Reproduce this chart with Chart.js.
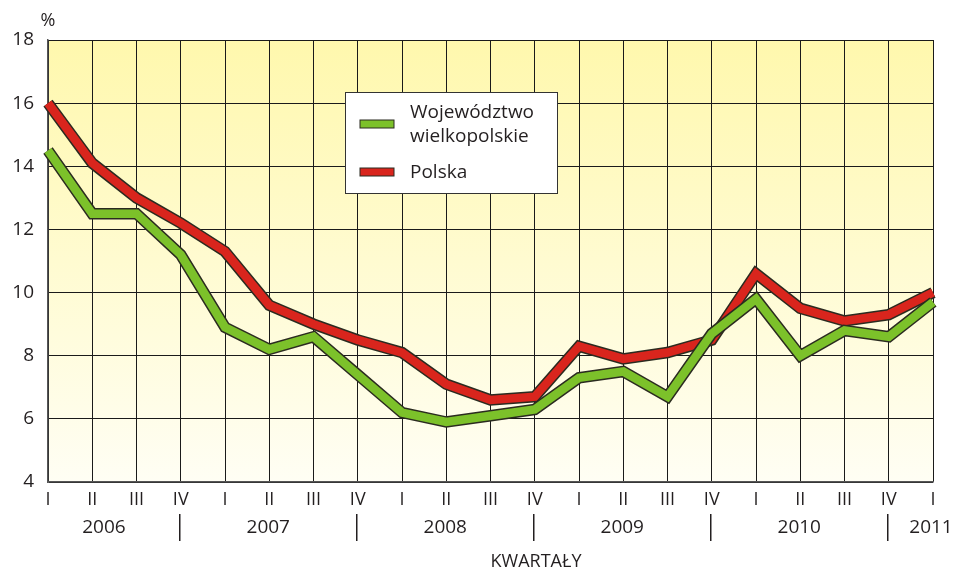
<!DOCTYPE html>
<html>
<head>
<meta charset="utf-8">
<script src="https://cdn.jsdelivr.net/npm/chart.js@4.4.0/dist/chart.umd.min.js"></script>
<style>
  html, body { margin: 0; padding: 0; background: #fff; }
  #wrap { width: 959px; height: 572px; position: relative; }
</style>
</head>
<body>
<div id="wrap"><canvas id="chart"></canvas></div>
<script>
const quarters = ['I','II','III','IV','I','II','III','IV','I','II','III','IV','I','II','III','IV','I','II','III','IV','I'];
const years = ['2006','2007','2008','2009','2010','2011'];
const wielkopolskie = [14.5,12.5,12.5,11.2,8.9,8.2,8.6,7.4,6.2,5.9,6.1,6.3,7.3,7.5,6.7,8.7,9.8,8.0,8.8,8.6,9.7];
const polska = [16.0,14.1,13.0,12.2,11.3,9.6,9.0,8.5,8.1,7.1,6.6,6.7,8.3,7.9,8.1,8.5,10.6,9.5,9.1,9.3,10.0];
const yTicks = [4,6,8,10,12,14,16,18];

const FONT = '"Open Sans", "Noto Sans", sans-serif';
const TXT = '#231f20';

// background gradient of the plot area
const bgPlugin = {
  id: 'bg',
  beforeDraw(chart) {
    const { ctx, chartArea: a } = chart;
    const g = ctx.createLinearGradient(0, a.top, 0, a.bottom);
    g.addColorStop(0, '#fff8ad');
    g.addColorStop(1, '#fffef4');
    ctx.save();
    ctx.fillStyle = g;
    ctx.fillRect(a.left, a.top, a.right - a.left, a.bottom - a.top);
    ctx.restore();
  }
};

// dark outline under each thick line
const outlinePlugin = {
  id: 'outline',
  beforeDatasetDraw(chart, args) {
    const { ctx } = chart;
    const pts = args.meta.data;
    ctx.save();
    ctx.beginPath();
    pts.forEach((p, i) => i ? ctx.lineTo(p.x, p.y) : ctx.moveTo(p.x, p.y));
    ctx.lineWidth = 11.5;
    ctx.lineJoin = 'miter';
    ctx.strokeStyle = '#2b2b20';
    ctx.stroke();
    ctx.restore();
  }
};

// years, separators, axis titles, legend box
const extrasPlugin = {
  id: 'extras',
  afterDraw(chart) {
    const { ctx, chartArea: a } = chart;
    const x = chart.scales.x;
    ctx.save();
    ctx.fillStyle = TXT;
    ctx.strokeStyle = TXT;
    ctx.textBaseline = 'middle';

    // separators at each IV, year labels centred between them
    const seps = [];
    quarters.forEach((q, i) => { if (q === 'IV') seps.push(x.getPixelForValue(i) - 1); });
    ctx.lineWidth = 1.5;
    seps.forEach(sx => {
      ctx.beginPath(); ctx.moveTo(sx, 514); ctx.lineTo(sx, 541); ctx.stroke();
    });
    const bounds = [a.left - 20].concat(seps, [a.right + 25]);
    ctx.font = '19px ' + FONT;
    ctx.textAlign = 'center';
    years.forEach((y, i) => {
      let cx = (bounds[i] + bounds[i + 1]) / 2;
      if (i === years.length - 1) cx = a.right - 2;
      ctx.fillText(y, cx, 528);
    });

    ctx.font = '18px ' + FONT;
    ctx.fillText('KWARTAŁY', 536, 562);
    ctx.font = '18px ' + FONT;
    ctx.fillText('%', 48, 21);

    // legend
    const lx = 345, ly = 92, lw = 212, lh = 101;
    ctx.fillStyle = '#fff';
    ctx.fillRect(lx, ly, lw, lh);
    ctx.lineWidth = 1;
    ctx.strokeStyle = '#333';
    ctx.strokeRect(lx + 0.5, ly + 0.5, lw, lh);
    const items = [
      { ds: chart.data.datasets[0], sy: 124, lines: ['Województwo', 'wielkopolskie'], ty: [113, 137] },
      { ds: chart.data.datasets[1], sy: 172, lines: ['Polska'], ty: [173] }
    ];
    ctx.font = '19px ' + FONT;
    ctx.textAlign = 'left';
    items.forEach(it => {
      ctx.fillStyle = it.ds.borderColor;
      ctx.fillRect(360, it.sy - 4, 34, 8);
      ctx.strokeStyle = '#2b2b20';
      ctx.strokeRect(360, it.sy - 4, 34, 8);
      ctx.fillStyle = TXT;
      it.lines.forEach((t, k) => ctx.fillText(t, 410, it.ty[k]));
    });
    ctx.restore();
  }
};

new Chart(document.getElementById('chart'), {
  type: 'line',
  data: {
    labels: quarters,
    datasets: [
      { label: 'Województwo wielkopolskie', data: wielkopolskie, borderColor: '#7cc12a', borderWidth: 8.5, pointRadius: 0, tension: 0, borderJoinStyle: 'miter' },
      { label: 'Polska', data: polska, borderColor: '#d9251d', borderWidth: 8.5, pointRadius: 0, tension: 0, borderJoinStyle: 'miter' }
    ]
  },
  options: {
    responsive: true,
    maintainAspectRatio: false,
    animation: false,
    layout: { padding: { left: 0, right: 26, top: 40, bottom: 0 } },
    plugins: { legend: { display: false }, tooltip: { enabled: false } },
    scales: {
      x: {
        offset: false,
        grid: { color: '#1a1a1a', lineWidth: 1, drawTicks: false },
        border: { color: '#555', width: 1.5 },
        ticks: { color: TXT, font: { family: FONT, size: 18 }, padding: 7, maxRotation: 0, autoSkip: false },
        afterFit(s) { s.height = 90; }
      },
      y: {
        min: 4, max: 18,
        afterBuildTicks(s) { s.ticks = yTicks.map(v => ({ value: v })); },
        grid: { color: '#1a1a1a', lineWidth: 1, drawTicks: false },
        border: { color: '#555', width: 1.5 },
        ticks: { color: TXT, font: { family: FONT, size: 19 }, padding: 14 },
        afterFit(s) { s.width = 48; }
      }
    }
  },
  plugins: [bgPlugin, outlinePlugin, extrasPlugin]
});
</script>
</body>
</html>
